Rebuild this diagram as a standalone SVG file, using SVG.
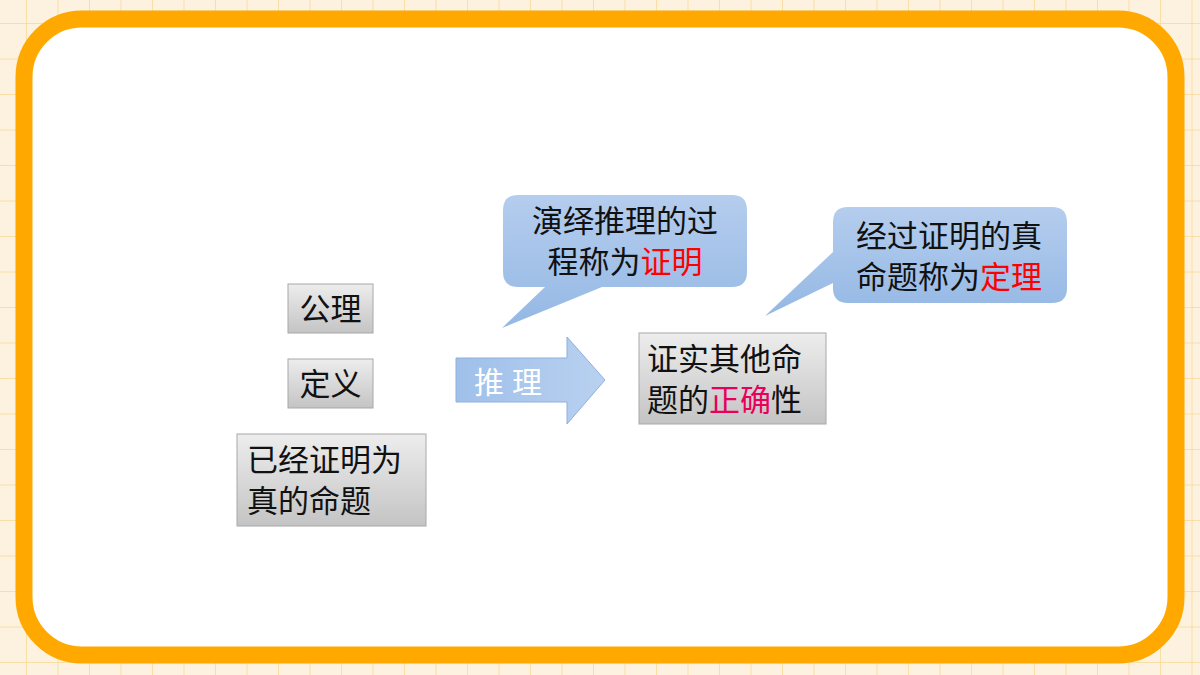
<svg xmlns="http://www.w3.org/2000/svg" width="1200" height="675" viewBox="0 0 1200 675">
<defs>
<pattern id="grid" width="31.5" height="35.5" patternUnits="userSpaceOnUse" x="-4.5" y="-11.5">
<rect width="31.5" height="35.5" fill="#fdf1df"/>
<path d="M31.5 0V35.5M0 35.5H31.5" stroke="#f8d995" stroke-width="1.5" fill="none"/>
</pattern>
<linearGradient id="gray" x1="0" y1="0" x2="0" y2="1"><stop offset="0" stop-color="#ededed"/><stop offset="1" stop-color="#c4c4c4"/></linearGradient>
<linearGradient id="blue" x1="0" y1="0" x2="0" y2="1"><stop offset="0" stop-color="#b5cdee"/><stop offset="1" stop-color="#94b8e4"/></linearGradient>
<linearGradient id="arrow" x1="0" y1="0" x2="1" y2="0"><stop offset="0" stop-color="#9fc0ea"/><stop offset="1" stop-color="#b9d1f0"/></linearGradient>
</defs>
<style>
.box{fill:url(#gray);stroke:#a8a8a8;stroke-width:1}
.t{font-family:"Noto Sans CJK SC",sans-serif;font-size:31px;fill:#111}
.r{fill:#ff0000}
.m{fill:#e8005a}
</style>
<rect width="1200" height="675" fill="url(#grid)"/>
<rect x="24" y="19" width="1152" height="636" rx="58" fill="#fff" stroke="#ffa800" stroke-width="17"/>
<g id="n-gongli"><rect class="box" x="288" y="284" width="85" height="49"/><text class="t" x="330.5" y="320" text-anchor="middle">公理</text></g>
<g id="n-dingyi"><rect class="box" x="288" y="359" width="85" height="49"/><text class="t" x="330.5" y="395" text-anchor="middle">定义</text></g>
<g id="n-proven"><rect class="box" x="237" y="434" width="189" height="92"/><text class="t" x="247" y="471">已经证明为</text><text class="t" x="247" y="512">真的命题</text></g>
<g id="connectors">
<g id="n-arrow"><path d="M456 358H567V337L605 380L567 424V402H456Z" fill="url(#arrow)" stroke="#8fb0dc" stroke-width="1"/><text x="474" y="393" font-family="Noto Sans CJK SC,sans-serif" font-size="30" fill="#fff" letter-spacing="8">推理</text></g>
</g>
<g id="n-result"><rect class="box" x="639" y="333" width="187" height="91"/><text class="t" x="647" y="370">证实其他命</text><text class="t" x="647" y="411">题的<tspan class="m">正确</tspan>性</text></g>
<g id="n-callout1"><path d="M518 195H732Q747 195 747 210V272Q747 287 732 287H602L502 328L545 287H518Q503 287 503 272V210Q503 195 518 195Z" fill="url(#blue)"/><text class="t" x="625" y="232" text-anchor="middle">演绎推理的过</text><text class="t" x="625" y="273" text-anchor="middle">程称为<tspan class="r">证明</tspan></text></g>
<g id="n-callout2"><path d="M848 207H1052Q1067 207 1067 222V288Q1067 303 1052 303H848Q833 303 833 288V283L765 316L833 252V222Q833 207 848 207Z" fill="url(#blue)"/><text class="t" x="949" y="247" text-anchor="middle">经过证明的真</text><text class="t" x="949" y="288" text-anchor="middle">命题称为<tspan class="r">定理</tspan></text></g>
</svg>
